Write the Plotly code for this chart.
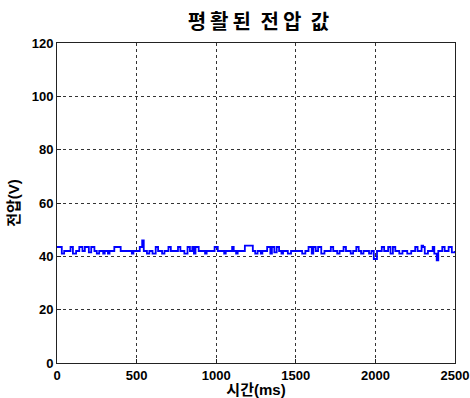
import plotly.graph_objects as go

# Smoothed voltage samples: time of each step change (ms) and the level held from there (V)
times_ms = [0, 30, 45, 85, 100, 120, 140, 160, 175, 200, 215, 235, 250, 265, 290, 300, 320, 330,
            360, 400, 470, 480, 520, 535, 545, 565, 580, 600, 620, 635, 660, 675, 700, 715, 760,
            775, 800, 820, 835, 850, 860, 870, 890, 930, 940, 990, 1010, 1050, 1060, 1100, 1110,
            1125, 1135, 1180, 1230, 1245, 1260, 1280, 1290, 1320, 1340, 1350, 1365, 1380, 1395,
            1410, 1420, 1450, 1470, 1540, 1560, 1580, 1600, 1610, 1625, 1640, 1660, 1680, 1720,
            1735, 1760, 1775, 1800, 1815, 1845, 1860, 1880, 1895, 1910, 1925, 1960, 1975, 1990,
            2010, 2040, 2055, 2080, 2095, 2110, 2125, 2150, 2170, 2200, 2225, 2250, 2265, 2290,
            2300, 2310, 2330, 2360, 2370, 2385, 2395, 2420, 2435, 2460, 2480, 2500]
voltage_v = [43.5, 41, 42, 43.5, 41, 42, 43.5, 42, 43.5, 41.5, 43.5, 42, 41, 42, 41, 42, 41, 42,
             43.5, 42, 41, 42, 43.5, 46, 42, 41, 42, 41, 43.5, 42, 41, 42, 43.5, 42, 43.5,
             42, 41, 43.5, 42, 43.5, 41, 43.5, 42, 41, 42, 43.5, 42, 41, 42, 43.5, 42,
             41, 42, 44, 42, 41, 42, 41, 42, 43.5, 41, 43.5, 41.5, 43.5, 42,
             41, 42, 41, 42, 41, 42, 43.5, 41, 43.5, 42, 43.5, 41, 42, 43.5,
             42, 41, 42, 43.5, 42, 41, 42, 43.5, 42, 41, 42, 41, 42, 39,
             42, 43.5, 42, 43.5, 41, 43.5, 42, 41, 42, 41, 42, 43.5, 42, 44,
             43.5, 41, 42, 43.5, 41, 38.5, 42, 43.5, 42, 43.5, 41.5, 42]

x_ticks = [0, 500, 1000, 1500, 2000, 2500]
y_ticks = [0, 20, 40, 60, 80, 100, 120]

FONT = "Arial, 'Liberation Sans', 'Noto Sans CJK KR', sans-serif"

fig = go.Figure(go.Scatter(
    x=times_ms, y=voltage_v, mode="lines", line_shape="hv",
    line=dict(color="#0000ff", width=1.8), showlegend=False,
))

axis_common = dict(
    showline=True, linecolor="#222", linewidth=1, mirror=True,
    ticks="inside", ticklen=4, tickcolor="#222", automargin=False,
    showgrid=True, gridcolor="#333", griddash="dot", gridwidth=1,
    zeroline=False, tickfont=dict(family=FONT, size=13, color="black", weight="bold"),
)

fig.update_xaxes(range=[0, 2500], tickvals=x_ticks, **axis_common,
                 title=dict(text="시간(ms)", standoff=0,
                            font=dict(family=FONT, size=15, color="black", weight="bold")))
fig.update_yaxes(range=[0, 120], tickvals=y_ticks, **axis_common,
                 title=dict(text="전압(V)", standoff=8,
                            font=dict(family=FONT, size=15, color="black", weight="bold")))

fig.update_layout(
    width=470, height=398,
    margin=dict(l=57, r=15, t=43, b=35),
    paper_bgcolor="white", plot_bgcolor="white",
    title=dict(text="평&#8201;활&#8201;된 &#8201;전&#8201;압 &#8201;값", x=0.55, xanchor="center",
               y=0.945, yanchor="middle",
               font=dict(family=FONT, size=20, color="black", weight="bold")),
)

fig.write_html("out.html")
